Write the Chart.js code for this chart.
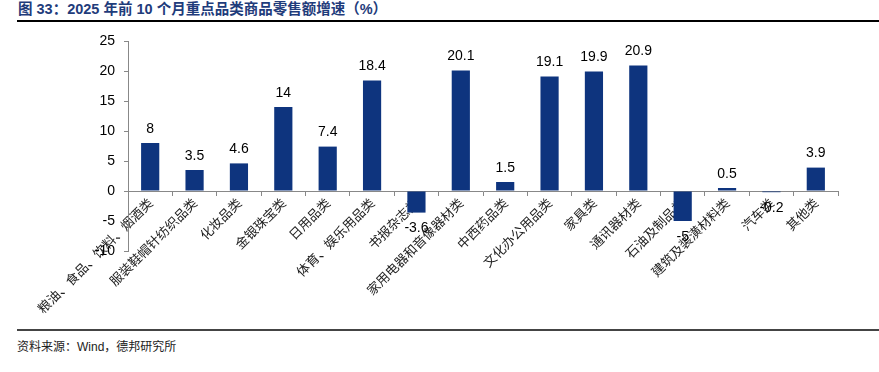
<!DOCTYPE html>
<html><head><meta charset="utf-8">
<script src="https://cdn.jsdelivr.net/npm/chart.js@4/dist/chart.umd.min.js"></script>
<style>
html,body{margin:0;padding:0;background:#fff;width:879px;height:372px;overflow:hidden;}
#title{position:absolute;left:18px;top:0px;font:bold 14.5px "Liberation Sans","Noto Sans CJK SC",sans-serif;color:#1F3C7B;white-space:nowrap;line-height:18px;}
#tl{position:absolute;left:17px;top:20px;width:862px;height:2px;background:#000;}
#bl{position:absolute;left:17px;top:329px;width:862px;height:2px;background:#444;}
#src{position:absolute;left:17px;top:337px;font:12px "Liberation Sans","Noto Sans CJK SC",sans-serif;color:#222;white-space:nowrap;}
#wrap{position:absolute;left:0;top:0;width:879px;height:372px;}
</style>
</head><body>
<div id="title">图 33：2025 年前 10 个月重点品类商品零售额增速（%）</div>
<div id="tl"></div>
<div id="bl"></div>
<div id="src">资料来源：Wind，德邦研究所</div>
<div id="wrap"><canvas id="c" width="879" height="372"></canvas></div>
<script>
const categories = ["粮油、食品、饮料、烟酒类","服装鞋帽针纺织品类","化妆品类","金银珠宝类","日用品类","体育、娱乐用品类","书报杂志类","家用电器和音像器材类","中西药品类","文化办公用品类","家具类","通讯器材类","石油及制品类","建筑及装潢材料类","汽车类","其他类"];
const growth = [8, 3.5, 4.6, 14, 7.4, 18.4, -3.6, 20.1, 1.5, 19.1, 19.9, 20.9, -5, 0.5, -0.2, 3.9];
const yTicks = [-10, -5, 0, 5, 10, 15, 20, 25];

const valueLabels = {
  id: 'valueLabels',
  afterDatasetsDraw(chart) {
    const ctx = chart.ctx;
    const meta = chart.getDatasetMeta(0);
    const data = chart.data.datasets[0].data;
    ctx.save();
    ctx.font = '14px "Liberation Sans", Arial, sans-serif';
    ctx.fillStyle = '#000';
    ctx.textAlign = 'center';
    ctx.textBaseline = 'middle';
    meta.data.forEach((bar, i) => {
      const v = data[i];
      const y = v >= 0 ? bar.y - 14 : bar.y + 16;
      ctx.fillText(String(v), bar.x, y);
    });
    ctx.restore();
  }
};

new Chart(document.getElementById('c'), {
  type: 'bar',
  data: {
    labels: categories,
    datasets: [{
      data: growth,
      backgroundColor: '#0E347E',
      borderWidth: 0,
      categoryPercentage: 1,
      barPercentage: 0.41
    }]
  },
  options: {
    responsive: false,
    animation: false,
    events: [],
    layout: { padding: { left: 0, top: 41, right: 41, bottom: 121 } },
    plugins: { legend: { display: false }, tooltip: { enabled: false }, title: { display: false } },
    scales: {
      x: {
        position: { y: 0 },
        grid: { display: true, drawOnChartArea: false, drawTicks: true, tickLength: 4, color: '#888', offset: true },
        border: { display: true, color: '#888', width: 1 },
        ticks: {
          autoSkip: false, minRotation: 45, maxRotation: 45, padding: 0,
          color: '#222',
          font: { family: '"Noto Sans CJK SC", sans-serif', size: 13 }
        }
      },
      y: {
        min: -10, max: 25,
        afterFit(scale) { scale.width = 128; },
        afterBuildTicks(scale) { scale.ticks = yTicks.map(v => ({ value: v })); },
        grid: { display: true, drawOnChartArea: false, drawTicks: true, tickLength: 4, color: '#888' },
        border: { display: true, color: '#888', width: 1 },
        ticks: {
          padding: 9, color: '#000',
          font: { family: '"Liberation Sans", Arial, sans-serif', size: 14 }
        }
      }
    }
  },
  plugins: [valueLabels]
});
</script>
</body></html>
